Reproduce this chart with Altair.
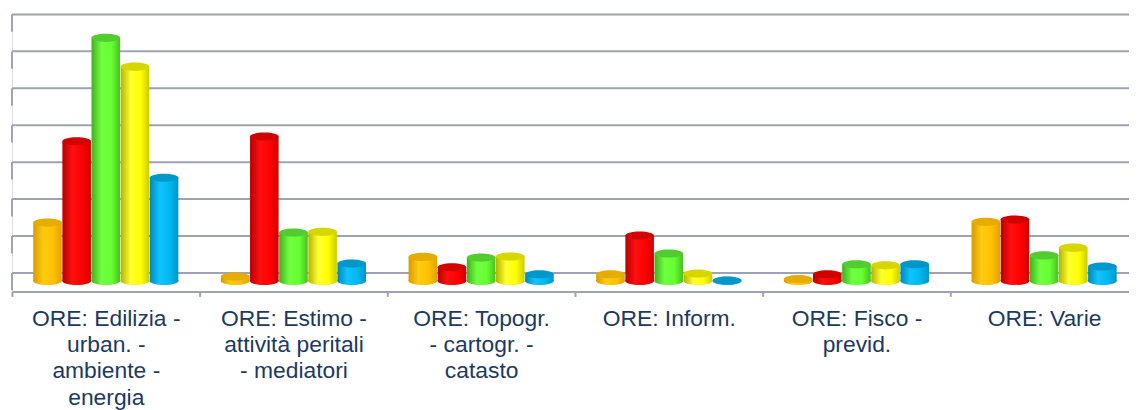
import json
import altair as alt
import pandas as pd

categories = [
    "ORE: Edilizia - urban. - ambiente - energia",
    "ORE: Estimo - attività peritali - mediatori",
    "ORE: Topogr. - cartogr. - catasto",
    "ORE: Inform.",
    "ORE: Fisco - previd.",
    "ORE: Varie",
]
label_lines = [
    ["ORE: Edilizia -", "urban. -", "ambiente -", "energia"],
    ["ORE: Estimo -", "attività peritali", "- mediatori"],
    ["ORE: Topogr.", "- cartogr. -", "catasto"],
    ["ORE: Inform."],
    ["ORE: Fisco -", "previd."],
    ["ORE: Varie"],
]
series = ["Serie 1", "Serie 2", "Serie 3", "Serie 4", "Serie 5"]
serie1 = [1.58, 0.12, 0.65, 0.18, 0.05, 1.60]
serie2 = [3.78, 3.91, 0.37, 1.23, 0.18, 1.66]
serie3 = [6.58, 1.31, 0.63, 0.74, 0.45, 0.69]
serie4 = [5.80, 1.33, 0.66, 0.20, 0.42, 0.90]
serie5 = [2.79, 0.47, 0.18, 0.01, 0.45, 0.39]
grid_values = [0, 1, 2, 3, 4, 5, 6, 7]

all_values = [serie1, serie2, serie3, serie4, serie5]
rows = []
for s, vals in zip(series, all_values):
    for c, v in zip(categories, vals):
        rows.append({"category": c, "series": s, "value": v})
df = pd.DataFrame(rows)

# cylinder styling (side gradient colours, top colour)
side_stops = [
    ["#D99A00", "#FFCC10", "#FFC000", "#E0A400"],
    ["#B80000", "#FF1010", "#FF0000", "#D00000"],
    ["#3FB01C", "#70FF40", "#66FF33", "#48C020"],
    ["#B4B400", "#FFFF30", "#FFFF00", "#CCCC00"],
    ["#0088B8", "#10C4FF", "#00B8F0", "#0096C8"],
]
top_colors = ["#E6AC00", "#D20000", "#52CC2E", "#D6D600", "#0098CC"]

GRID = "#9EA3B4"
TEXT = "#1B3A63"
ELLIPSE = "M-1,0A1,0.28,0,1,1,1,0A1,0.28,0,1,1,-1,0Z"
BAR_W = 29
SYM_SIZE = BAR_W * BAR_W
DEPTH = 8
W = 1125
H = 279

x_scale = alt.Scale(domain=categories, range=[0, 1134], paddingInner=0, paddingOuter=0)
xo_scale = alt.Scale(domain=series, paddingInner=0.02, paddingOuter=0.73)
y_scale = alt.Scale(domain=[-0.5, 7], nice=False, zero=False)

expr = "''"
for c, lines in reversed(list(zip(categories, label_lines))):
    expr = f"datum.value == {json.dumps(c)} ? {json.dumps(lines)} : ({expr})"

x_axis = alt.Axis(
    title=None, labelExpr=expr, tickBand="extent", labelAngle=0,
    domainColor=GRID, domainWidth=2, tickColor=GRID, tickWidth=2, tickSize=5,
    labelFont="Liberation Sans", labelFontSize=23, labelColor=TEXT,
    labelLineHeight=26.5, labelPadding=11, labelBaseline="top",
    labelOverlap=False, labelBound=False, labelLimit=0, grid=False,
)

base = alt.Chart(df)

# back-wall gridlines and left-wall edge segments
grid_df = pd.DataFrame({"v": grid_values})
grid_base = alt.Chart(grid_df).transform_calculate(v2="datum.v - 0.47")
gridlines = grid_base.mark_rule(color=GRID, strokeWidth=2).encode(
    x=alt.value(0),
    x2=alt.value(W),
    y=alt.Y("v:Q", scale=y_scale, axis=None),
)
wall = grid_base.mark_rule(color=GRID, strokeWidth=2).encode(
    x=alt.value(0),
    y=alt.Y("v:Q", scale=y_scale, axis=None),
    y2="v2:Q",
)

layers = [gridlines, wall]
enc_x = alt.X("category:N", scale=x_scale, axis=x_axis, sort=categories)
enc_xo = alt.XOffset("series:N", scale=xo_scale, sort=series)
for i, s in enumerate(series):
    st = side_stops[i]
    grad = alt.LinearGradient(
        gradient="linear", x1=0, x2=1, y1=0, y2=0,
        stops=[
            alt.GradientStop(offset=0, color=st[0]),
            alt.GradientStop(offset=0.35, color=st[1]),
            alt.GradientStop(offset=0.7, color=st[2]),
            alt.GradientStop(offset=1, color=st[3]),
        ],
    )
    sub = base.transform_filter(alt.datum.series == s).transform_calculate(zero="0")
    bottom = sub.mark_point(
        shape=ELLIPSE, size=SYM_SIZE, filled=True, color=grad, opacity=1,
        strokeWidth=0, yOffset=DEPTH,
    ).encode(x=enc_x, xOffset=enc_xo, y=alt.Y("zero:Q", scale=y_scale, axis=None))
    bar = sub.mark_bar(color=grad, yOffset=DEPTH, y2Offset=DEPTH).encode(
        x=enc_x, xOffset=enc_xo, y=alt.Y("value:Q", scale=y_scale, axis=None), y2="zero:Q"
    )
    top = sub.mark_point(
        shape=ELLIPSE, size=SYM_SIZE, filled=True, color=top_colors[i], opacity=1,
        strokeWidth=0, yOffset=DEPTH,
    ).encode(x=enc_x, xOffset=enc_xo, y=alt.Y("value:Q", scale=y_scale, axis=None))
    layers += [bottom, bar, top]

chart = alt.layer(*layers).properties(
    width=W,
    height=H,
    autosize=alt.AutoSizeParams(type="none"),
    padding={"left": 4, "top": 5, "right": 0, "bottom": 118},
).configure_view(stroke=None).configure(background="white")

chart.save("out.html", embed_options={"renderer": "svg", "actions": False})
